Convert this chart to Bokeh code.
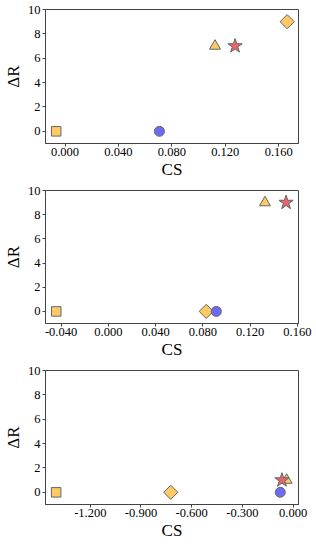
from bokeh.plotting import figure
from bokeh.layouts import column
from bokeh.models import Range1d, FixedTicker, NumeralTickFormatter
from bokeh.embed import file_html
from bokeh.resources import INLINE
import numpy as np

# Marker order: square, circle, triangle, star, diamond
cs_a = [-0.0066, 0.0707, 0.1123, 0.1273, 0.1663]
dr_a = [0, 0, 7, 7, 9]
cs_b = [-0.0441, 0.0914, 0.1326, 0.1505, 0.0829]
dr_b = [0, 0, 9, 9, 0]
cs_c = [-1.402, -0.076, -0.038, -0.066, -0.724]
dr_c = [0, 0, 1, 1, 0]

xticks_a = [0.0, 0.04, 0.08, 0.12, 0.16]
xticks_b = [-0.04, 0.0, 0.04, 0.08, 0.12, 0.16]
xticks_c = [-1.2, -0.9, -0.6, -0.3, 0.0]
yticks = [0, 2, 4, 6, 8, 10]

xr_a = (-0.0146, 0.1748)
xr_b = (-0.0532, 0.161)
xr_c = (-1.465, 0.032)
yr = (-1, 10)

ORANGE = "#FFC966"
BLUE = "#6B6BF5"
RED = "#E8656E"
EDGE = "#666666"
FONT = "Liberation Serif"


def make_panel(xs, ys, xticks, xr, height):
    p = figure(width=316, height=height, output_backend="svg", toolbar_location=None,
               x_range=Range1d(*xr), y_range=Range1d(*yr),
               min_border_left=39, min_border_right=18, min_border_top=9,
               min_border_bottom=height - 9 - 136)
    p.grid.visible = False
    p.outline_line_color = "#444444"
    p.outline_line_width = 1
    p.background_fill_color = "white"
    p.border_fill_color = "white"
    for ax in (p.xaxis[0], p.yaxis[0]):
        ax.axis_line_color = "#444444"
        ax.major_tick_line_color = "#444444"
        ax.major_tick_out = 3
        ax.major_tick_in = 0
        ax.minor_tick_line_color = None
        ax.major_label_text_font = FONT
        ax.major_label_text_font_size = "12.5px"
        ax.major_label_text_color = "black"
        ax.major_label_text_line_height = 1.0
        ax.axis_label_text_font = FONT
        ax.axis_label_text_font_size = "17px"
        ax.axis_label_text_font_style = "normal"
        ax.axis_label_text_color = "black"
        ax.axis_label_text_line_height = 1.0
    p.xaxis[0].major_label_standoff = 1
    p.xaxis[0].axis_label_standoff = 1
    p.yaxis[0].major_label_standoff = 2
    p.yaxis[0].axis_label_standoff = 2
    p.xaxis[0].ticker = FixedTicker(ticks=xticks)
    p.xaxis[0].formatter = NumeralTickFormatter(format="0.000")
    p.yaxis[0].ticker = FixedTicker(ticks=yticks)
    p.xaxis[0].axis_label = "CS"
    p.yaxis[0].axis_label = "ΔR"

    kw = dict(line_color=EDGE, line_width=1)
    p.scatter([xs[0]], [ys[0]], marker="square", size=9.5, fill_color=ORANGE, **kw)
    p.scatter([xs[4]], [ys[4]], marker="square", angle=np.pi / 4, size=10,
              fill_color=ORANGE, **kw)
    p.scatter([xs[1]], [ys[1]], marker="circle", size=10, fill_color=BLUE, **kw)
    p.scatter([xs[2]], [ys[2]], marker="triangle", size=11, fill_color=ORANGE, **kw)
    p.scatter([xs[3]], [ys[3]], marker="star", size=15, fill_color=RED, **kw)
    return p


p1 = make_panel(cs_a, dr_a, xticks_a, xr_a, 181)
p2 = make_panel(cs_b, dr_b, xticks_b, xr_b, 180)
p3 = make_panel(cs_c, dr_c, xticks_c, xr_c, 181)

layout = column(p1, p2, p3, spacing=0)

open("out.html", "w").write(file_html(layout, INLINE))
